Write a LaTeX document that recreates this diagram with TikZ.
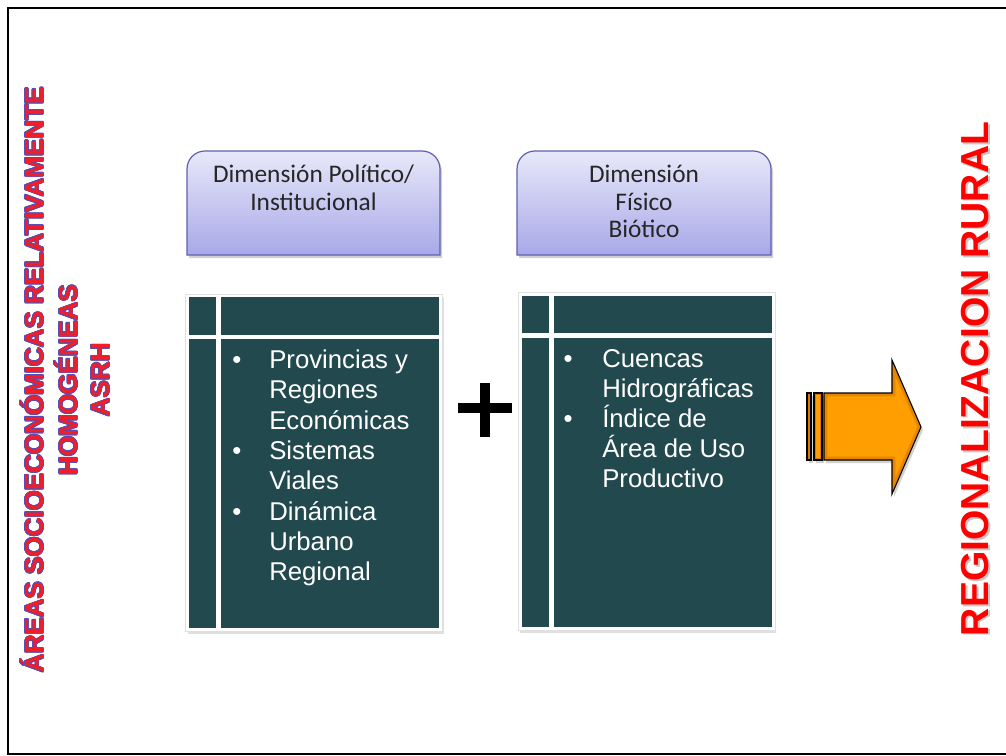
\documentclass[tikz,border=0pt]{standalone}
\usepackage{fontspec}
\setmainfont{Liberation Sans}
\newfontfamily\hdrfont{Carlito}
\usepackage[copies]{contour}
\contourlength{0.55pt}
\contournumber{16}

\definecolor{cellTeal}{RGB}{34,74,78}
\definecolor{hdrTop}{RGB}{232,232,250}
\definecolor{hdrBot}{RGB}{168,168,232}
\definecolor{hdrLine}{RGB}{96,96,176}
\definecolor{arrOrange}{RGB}{255,158,0}
\definecolor{arrDark}{RGB}{190,100,0}
\definecolor{titleRed}{RGB}{240,30,40}
\definecolor{titleBlue}{RGB}{90,76,176}
\definecolor{sideRed}{RGB}{255,0,0}

\tikzset{
  frameline/.style={line width=1.5pt, black},
  hdrshape/.style={top color=hdrTop, bottom color=hdrBot, draw=hdrLine, line width=0.9pt},
  hdrshadow/.style={fill=black, opacity=0.18},
  hdrtxt/.style={font=\hdrfont\fontsize{19pt}{20pt}\selectfont, text=black!85, inner sep=0pt, anchor=base},
  cellbox/.style={fill=cellTeal},
  tblframe/.style={fill=white, draw=black!12, line width=0.4pt},
  tblshadow/.style={fill=black, opacity=0.12},
  bodytxt/.style={font=\fontsize{19.3pt}{22pt}\selectfont, text=white, inner sep=0pt},
  plusbar/.style={line width=7.5pt, black},
  sidetxt/.style={font=\bfseries\fontsize{19.5pt}{22pt}\selectfont, inner sep=0pt, anchor=base, rotate=90},
  bigtxt/.style={font=\bfseries\fontsize{29.3pt}{32pt}\selectfont, inner sep=0pt, anchor=base, rotate=90},
}

\begin{document}
\begin{tikzpicture}[x=0.75pt, y=-0.75pt]
\useasboundingbox (0,0) rectangle (1006,756);

% outer frame (left, top, bottom)
\draw[frameline] (1006,8) -- (8,8) -- (8,754) -- (1006,754);

% ---- header boxes ----
\foreach \xl/\xr in {187/440, 517/771} {
  \path[hdrshadow] (\xl+2,258) -- (\xl+2,172) to[out=90,in=180] (\xl+20,154)
     -- (\xr-16,154) to[out=0,in=90] (\xr+2,172) -- (\xr+2,258) -- cycle;
  \path[hdrshape] (\xl,255) -- (\xl,169) to[out=90,in=180] (\xl+18,151)
     -- (\xr-18,151) to[out=0,in=90] (\xr,169) -- (\xr,255) -- cycle;
}
\node[hdrtxt] (hA1) at (313.5,183) {Dimensión Político/};
\node[hdrtxt] (hA2) at (313.5,210) {Institucional};
\node[hdrtxt] (hB1) at (644,183) {Dimensión};
\node[hdrtxt] (hB2) at (644,210) {Físico};
\node[hdrtxt] (hB3) at (644,237) {Biótico};

% ---- table 1 ----
\fill[tblshadow] (188,298) rectangle (444,634);
\path[tblframe] (185,294) rectangle (442,631);
\fill[cellbox] (189,297) rectangle (216,335);
\fill[cellbox] (221,297) rectangle (439,335);
\fill[cellbox] (189,339) rectangle (216,628);
\fill[cellbox] (221,339) rectangle (439,628);

\foreach \t [count=\i from 0] in {Provincias y, Regiones, Económicas, Sistemas, Viales, Dinámica, Urbano, Regional}
  \node[bodytxt, anchor=base west] (pa\i) at (269,368.5+30.3*\i) {\t};
\foreach \i in {0,3,5}
  \node[bodytxt, anchor=base] (ba\i) at (237,368.5+30.3*\i) {•};

% ---- table 2 ----
\fill[tblshadow] (520,296) rectangle (776,633);
\path[tblframe] (518,292) rectangle (775,630);
\fill[cellbox] (522,296) rectangle (549,333);
\fill[cellbox] (554,296) rectangle (772,333);
\fill[cellbox] (522,338) rectangle (549,627);
\fill[cellbox] (554,338) rectangle (772,627);

\foreach \t [count=\i from 0] in {Cuencas, Hidrográficas, Índice de, Área de Uso, Productivo}
  \node[bodytxt, anchor=base west] (pb\i) at (602,367+30*\i) {\t};
\foreach \i in {0,2}
  \node[bodytxt, anchor=base] (bb\i) at (568,367+30*\i) {•};

% ---- plus sign ----
\draw[plusbar] (458,408) -- (512,408);
\draw[plusbar] (485,383) -- (485,437);

% ---- striped block arrow ----
\fill[black, opacity=0.18] (809,396) rectangle (813,463);
\fill[black, opacity=0.18] (816,396) rectangle (824,463)
  (826,396) -- (894,396) -- (894,363) -- (923,430) -- (894,497) -- (894,463) -- (826,463) -- cycle;
\foreach \a/\b in {807/811, 814/822} {
  \begin{scope}
    \clip (\a,393) rectangle (\b,460);
    \fill[arrOrange] (\a,393) rectangle (\b,460);
    \draw[arrDark, line width=3pt, opacity=0.6] (\a,393) rectangle (\b,460);
  \end{scope}
  \draw[black, line width=0.8pt] (\a,393) rectangle (\b,460);
}
\begin{scope}
  \clip (824,393) -- (892,393) -- (892,360) -- (921,427) -- (892,494) -- (892,460) -- (824,460) -- cycle;
  \fill[arrOrange] (800,350) rectangle (930,500);
  \draw[arrDark, line width=5pt, opacity=0.4]
    (824,393) -- (892,393) -- (892,360) -- (921,427) -- (892,494) -- (892,460) -- (824,460) -- cycle;
\end{scope}
\draw[black, line width=0.8pt, line join=miter]
  (824,393) -- (892,393) -- (892,360) -- (921,427) -- (892,494) -- (892,460) -- (824,460) -- cycle;

% ---- left vertical title ----
\node[sidetxt, text=titleRed] (sideA) at (43,380) {\contour{titleBlue}{ÁREAS SOCIOECONÓMICAS RELATIVAMENTE}};
\node[sidetxt, text=titleRed] (sideB) at (77,380) {\contour{titleBlue}{HOMOGÉNEAS}};
\node[sidetxt, text=titleRed] (sideC) at (109,380) {\contour{titleBlue}{ASRH}};

% ---- right vertical title ----
\node[bigtxt, text=black!22] (rightS) at (990,380.5) {REGIONALIZACION RURAL};
\node[bigtxt, text=sideRed] (rightT) at (988,379) {REGIONALIZACION RURAL};
\end{tikzpicture}
\end{document}
